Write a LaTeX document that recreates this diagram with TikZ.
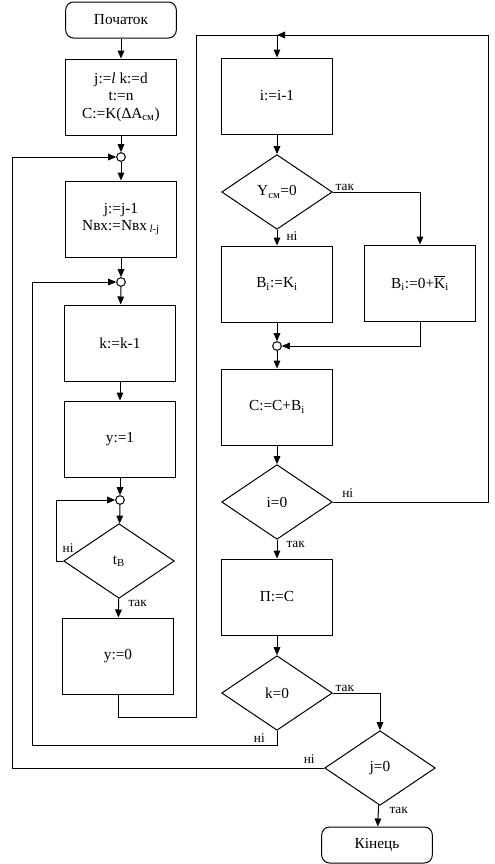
\documentclass[tikz,border=0pt]{standalone}
\usepackage{fontspec}
\setmainfont{Liberation Serif}
\usetikzlibrary{shapes.geometric,arrows.meta}

\tikzset{every picture/.style={line width=0.75pt}}
\tikzset{
  blok/.style={draw, minimum width=83pt, minimum height=57pt, align=center, inner sep=1pt, font=\fontsize{11.5}{13}\selectfont},
  term/.style={blok, rounded corners=6pt, minimum height=27pt},
  umova/.style={draw, diamond, minimum width=83pt, minimum height=56pt, inner sep=0pt, font=\fontsize{11.5}{13}\selectfont},
  vuzol/.style={draw, circle, fill=white, minimum size=6.5pt, inner sep=0pt},
  mitka/.style={font=\fontsize{10}{12}\selectfont, inner sep=0.75pt},
  strilka/.style={-{Triangle[length=6pt,width=5pt]}},
}

\begin{document}
\begin{tikzpicture}[x=0.75pt,y=0.75pt,yscale=-1,xscale=1]
\useasboundingbox (0,0) rectangle (494,864);

% left column
\node[term] (pochatok) at (121,20) {Початок};
\node[blok] (init) at (121,97) {j:=\textit{l} k:=d\\t:=n\\C:=K(ΔA\textsubscript{см})};
\node[vuzol] (j1) at (121,157) {};
\node[blok] (bj) at (121,219) {j:=j-1\\Nвх:=Nвх\,\textsubscript{\textit{l}-j}};
\node[vuzol] (j2) at (121,282) {};
\node[blok] (bk) at (120,343) {k:=k-1};
\node[blok] (by1) at (120,439) {y:=1};
\node[vuzol] (j3) at (120,500) {};
\node[umova] (tv) at (119,561) {t\textsubscript{В}};
\node[blok] (by0) at (118,656) {y:=0};

% right column
\coordinate (zbir) at (277,35);
\node[blok] (bi) at (277,96) {i:=i-1};
\node[umova] (dY) at (277,192) {Y\textsubscript{см}=0};
\node[blok] (bK) at (277,284) {B\textsubscript{i}:=K\textsubscript{i}};
\node[blok] (bK0) at (420,283) {B\textsubscript{i}:=0+$\overline{\mbox{K}}$\textsubscript{i}};
\node[vuzol] (j4) at (277,346) {};
\node[blok] (bC) at (277,407) {C:=C+B\textsubscript{i}};
\node[umova] (di0) at (277,502) {i=0};
\node[blok] (bP) at (277,597) {П:=C};
\node[umova] (dk0) at (277,693) {k=0};
\node[umova] (dj0) at (380,768) {j=0};
\node[term] (kinets) at (377,845) {Кінець};

% straight arrows
\draw[strilka] (pochatok) -- (init);
\draw[strilka] (init) -- (j1);
\draw[strilka] (j1) -- (bj);
\draw[strilka] (bj) -- (j2);
\draw[strilka] (j2) -- (bk);
\draw[strilka] (bk) -- (by1);
\draw[strilka] (by1) -- (j3);
\draw[strilka] (j3) -- (tv);
\draw[strilka] (tv) -- (by0);
\draw[strilka] (bi) -- (dY);
\draw[strilka] (dY) -- (bK);
\draw[strilka] (bK) -- (j4);
\draw[strilka] (j4) -- (bC);
\draw[strilka] (bC) -- (di0);
\draw[strilka] (di0) -- (bP);
\draw[strilka] (bP) -- (dk0);
\draw[strilka] (dj0) -- (kinets);

% branches and loops
\draw[strilka] (tv.west) -- ++(-7,0) |- (j3);
\draw[strilka] (by0.south) |- (196,717) -- (196,35) -- (zbir) -- (bi);
\draw[strilka] (dY.east) -| (bK0);
\draw[strilka] (bK0.south) |- (j4);
\draw[strilka] (di0.east) -| (488,35) -- (zbir);
\draw[strilka] (dk0.east) -| (dj0);
\draw[strilka] (dk0.south) -- (277,745) -| (32,282) -- (j2);
\draw[strilka] (dj0.west) -| (12,157) -- (j1);

% labels
\node[mitka, anchor=south west, xshift=-1.5pt, yshift=5pt] (lt1) at (tv.west) {ні};
\node[mitka, anchor=north west, xshift=6pt] (lt2) at (tv.south) {так};
\node[mitka, anchor=south west, xshift=1pt] (lY1) at (dY.east) {так};
\node[mitka, anchor=north west, xshift=6pt] (lY2) at (dY.south) {ні};
\node[mitka, anchor=south west, xshift=6pt, yshift=2pt] (li1) at (di0.east) {ні};
\node[mitka, anchor=north west, xshift=6pt] (li2) at (di0.south) {так};
\node[mitka, anchor=south west, xshift=1pt] (lk1) at (dk0.east) {так};
\node[mitka, anchor=north east, xshift=-8pt, yshift=-1pt] (lk2) at (dk0.south) {ні};
\node[mitka, anchor=south east, xshift=-6pt, yshift=2pt] (lj1) at (dj0.west) {ні};
\node[mitka, anchor=north west, xshift=6pt] (lj2) at (dj0.south) {так};
\end{tikzpicture}
\end{document}
